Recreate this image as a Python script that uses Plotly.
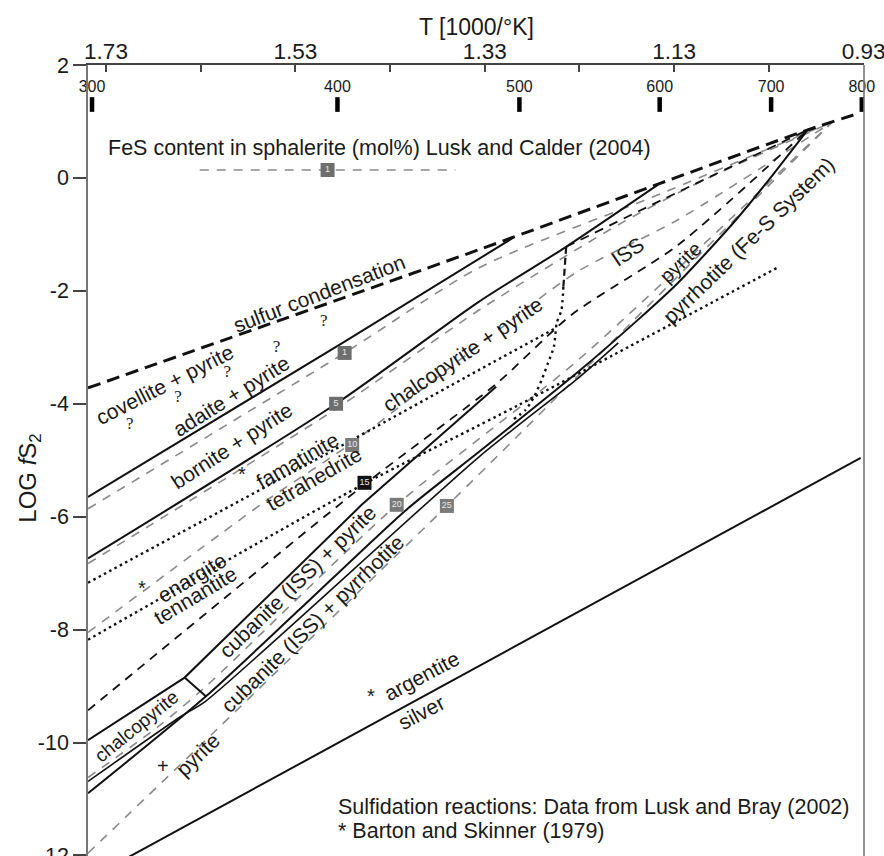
import plotly.graph_objects as go

# ---------------- axis / tick data ----------------
x_tick_vals = [1.73, 1.53, 1.33, 1.13, 0.93]
x_tick_text = ["1.73", "1.53", "1.33", "1.13", "0.93"]
x_minor_vals = [1.63, 1.43, 1.23, 1.03]
y_tick_vals = [2, 0, -2, -4, -6, -8, -10, -12]
y_tick_text = ["2", "0", "-2", "-4", "-6", "-8", "-10", "-12"]
temps_c = [300, 400, 500, 600, 700, 800]
temp_bar_y = [1.17, 1.43]
temp_label_y = 1.59

# ---------------- reaction lines (x = 1000/T, y = log fS2) ----------------
sulfur_x = [1.749, 1.336, 1.147, 0.989, 0.934]
sulfur_y = [-3.72, -1.27, -0.11, 0.85, 1.15]

covellite_x = [1.749, 1.478, 1.300]
covellite_y = [-5.65, -2.90, -1.06]

bornite_x = [1.749, 1.487, 1.336, 1.244, 1.147]
bornite_y = [-6.74, -4.00, -2.19, -1.22, -0.12]

ccp_top_x = [1.749, 1.647, 1.460, 1.318]
ccp_top_y = [-9.96, -8.85, -5.79, -3.70]

ccp_div_x = [1.647, 1.624]
ccp_div_y = [-8.85, -9.19]

po_x = [1.749, 1.625, 1.526, 1.413, 1.336, 1.231, 1.168, 1.126, 1.105, 1.063, 1.026, 0.989]
po_y = [-10.90, -9.19, -7.65, -5.88, -4.85, -3.43, -2.51, -1.86, -1.49, -0.71, 0.05, 0.85]

po2_x = [1.749, 1.651, 1.625, 1.336, 1.231, 1.189]
po2_y = [-10.69, -9.54, -9.27, -4.94, -3.54, -2.92]

iso15_x = [1.749, 1.457, 1.318, 1.238, 1.126, 0.989]
iso15_y = [-9.43, -5.43, -3.65, -2.42, -1.19, 0.85]

iss_top_x = [1.244, 1.154, 0.989]
iss_top_y = [-1.22, -0.48, 0.85]

iss_dash_x = [1.244, 1.247]
iss_dash_y = [-1.22, -1.93]
iss_dot_x = [1.247, 1.249, 1.254, 1.257, 1.263, 1.270, 1.278, 1.287, 1.300]
iss_dot_y = [-1.93, -2.34, -2.57, -2.99, -3.27, -3.58, -3.88, -4.11, -4.28]

famatinite_x = [1.749, 1.470, 1.336, 1.254]
famatinite_y = [-7.17, -4.64, -3.40, -2.65]

enargite_x = [1.749, 1.463, 1.294, 1.021]
enargite_y = [-8.18, -5.47, -4.02, -1.59]

argentite_x = [1.715, 0.933]
argentite_y = [-12.11, -4.96]

# FeS isopleths in sphalerite (grey dashed)
iso1_x = [1.749, 1.478, 1.336, 1.147, 0.963]
iso1_y = [-5.86, -3.10, -1.59, -0.30, 0.99]
iso5_x = [1.749, 1.487, 1.336, 1.189, 1.105, 0.963]
iso5_y = [-6.83, -4.09, -2.34, -0.83, -0.09, 0.99]
iso10_x = [1.749, 1.561, 1.470, 1.336, 1.234, 1.126, 0.963]
iso10_y = [-8.05, -5.72, -4.69, -2.96, -1.68, -0.74, 0.99]
iso20_x = [1.749, 1.675, 1.626, 1.423, 1.231, 0.963]
iso20_y = [-10.62, -9.72, -9.03, -5.79, -3.22, 0.99]
iso25_x = [1.749, 1.613, 1.370, 1.291, 0.963]
iso25_y = [-11.96, -9.77, -5.81, -4.50, 0.99]

legend_line_x = [1.631, 1.361]
legend_line_y = [0.14, 0.14]

# square markers (mol% FeS)
sq_x = [1.478, 1.487, 1.470, 1.457, 1.423, 1.370, 1.496]
sq_y = [-3.10, -4.00, -4.73, -5.40, -5.79, -5.81, 0.14]
sq_text = ["1", "5", "10", "15", "20", "25", "1"]

q_x = [1.705, 1.654, 1.602, 1.550, 1.500]
q_y = [-4.37, -3.89, -3.45, -3.01, -2.55]

# labels: text, x, y, angle, size
labels = [
    ("sulfur condensation", 1.505, -2.04, -21, 21),
    ("covellite + pyrite", 1.668, -3.66, -27, 21),
    ("adaite + pyrite", 1.597, -3.86, -32, 21),
    ("bornite + pyrite", 1.597, -4.74, -33, 21),
    ("chalcopyrite + pyrite", 1.354, -3.13, -34, 21),
    ("famatinite", 1.528, -5.01, -30, 21),
    ("tetrahedrite", 1.510, -5.33, -30, 21),
    ("enargite", 1.639, -7.08, -31, 21),
    ("tennantite", 1.636, -7.39, -31, 21),
    ("cubanite (ISS) + pyrite", 1.528, -7.14, -44, 21),
    ("cubanite (ISS) + pyrrhotite", 1.512, -7.89, -44, 21),
    ("chalcopyrite", 1.698, -9.72, -39, 19),
    ("pyrite", 1.633, -10.21, -44, 21),
    ("argentite", 1.396, -8.82, -28, 21),
    ("silver", 1.397, -9.47, -28, 21),
    ("ISS", 1.179, -1.31, -34, 21),
    ("pyrite", 1.123, -1.49, -44, 20),
    ("pyrrhotite (Fe-S System)", 1.052, -1.10, -44, 21),
]
symbols = [
    ("*", 1.586, -5.24), ("*", 1.692, -7.27), ("*", 1.450, -9.17), ("+", 1.670, -10.42),
]

FONT = "Liberation Sans, Arial, sans-serif"
TXT = "#1a1a1a"
GREY = "#8a8a8a"

fig = go.Figure()


def add_line(x, y, color, width, dash="solid", shape="linear"):
    fig.add_trace(go.Scatter(x=x, y=y, mode="lines",
                             line=dict(color=color, width=width, dash=dash, shape=shape,
                                       smoothing=0.7),
                             hoverinfo="skip", showlegend=False))


gdash = "9px,8px"
for gx, gy in [(iso1_x, iso1_y), (iso5_x, iso5_y), (iso10_x, iso10_y),
               (iso20_x, iso20_y), (iso25_x, iso25_y)]:
    add_line(gx, gy, GREY, 1.6, gdash, "spline")
add_line(legend_line_x, legend_line_y, GREY, 1.6, gdash)

add_line(covellite_x, covellite_y, "#111", 2, shape="spline")
add_line(bornite_x, bornite_y, "#111", 2, shape="spline")
add_line(ccp_top_x, ccp_top_y, "#111", 2)
add_line(ccp_div_x, ccp_div_y, "#111", 2)
add_line(po_x, po_y, "#111", 2, shape="spline")
add_line(po2_x, po2_y, "#111", 1.6, shape="spline")
add_line(argentite_x, argentite_y, "#111", 2)
add_line(iso15_x, iso15_y, "#111", 1.8, "9px,7px", "spline")
add_line(iss_top_x, iss_top_y, "#111", 1.8, "9px,7px", "spline")
add_line(iss_dash_x, iss_dash_y, "#111", 2.2, "7px,4px")
add_line(iss_dot_x, iss_dot_y, "#111", 2.4, "2.5px,4px", "spline")
add_line(famatinite_x, famatinite_y, "#111", 2.4, "2.5px,3.5px", "spline")
add_line(enargite_x, enargite_y, "#111", 2.4, "2.5px,3.5px", "spline")
add_line(sulfur_x, sulfur_y, "#111", 3, "13px,7px", "spline")

# temperature bars and labels
t_x = [1000.0 / (t + 273.15) for t in temps_c]
bar_x, bar_y = [], []
for v in t_x:
    bar_x += [v, v, None]
    bar_y += [temp_bar_y[0], temp_bar_y[1], None]
fig.add_trace(go.Scatter(x=bar_x, y=bar_y, mode="lines", line=dict(color="#000", width=4.5),
                         hoverinfo="skip", showlegend=False, cliponaxis=False))
fig.add_trace(go.Scatter(x=t_x, y=[temp_label_y] * len(t_x), mode="text",
                         text=[str(t) for t in temps_c],
                         textfont=dict(family=FONT, size=16, color=TXT),
                         hoverinfo="skip", showlegend=False, cliponaxis=False))

# squares
sq_colors = ["#6e6e6e", "#6e6e6e", "#7a7a7a", "#111111", "#7a7a7a", "#7a7a7a", "#6e6e6e"]
fig.add_trace(go.Scatter(x=sq_x, y=sq_y, mode="markers+text", text=sq_text,
                         textposition="middle center",
                         textfont=dict(family=FONT, size=9, color="#e8e8e8"),
                         marker=dict(symbol="square", size=14, color=sq_colors),
                         hoverinfo="skip", showlegend=False))

# question marks
fig.add_trace(go.Scatter(x=q_x, y=q_y, mode="text", text=["?"] * len(q_x),
                         textfont=dict(family="Liberation Serif, serif", size=17, color=TXT),
                         hoverinfo="skip", showlegend=False))

annotations = []
for text, x, y, ang, size in labels:
    annotations.append(dict(x=x, y=y, xref="x", yref="y", text=text, showarrow=False,
                            textangle=ang, font=dict(family=FONT, size=size, color=TXT),
                            xanchor="center", yanchor="middle"))
for text, x, y in symbols:
    annotations.append(dict(x=x, y=y, xref="x", yref="y", text=text, showarrow=False,
                            font=dict(family=FONT, size=20, color=TXT),
                            xanchor="center", yanchor="middle"))

annotations += [
    dict(x=1.441, y=0.53, xref="x", yref="y", showarrow=False,
         text="FeS content in sphalerite (mol%) Lusk and Calder (2004)",
         font=dict(family=FONT, size=21.5, color=TXT), xanchor="center", yanchor="middle"),
    dict(x=1.487, y=-11.15, xref="x", yref="y", showarrow=False,
         text="Sulfidation reactions: Data from Lusk and Bray (2002)",
         font=dict(family=FONT, size=21.5, color=TXT), xanchor="left", yanchor="middle"),
    dict(x=1.487, y=-11.56, xref="x", yref="y", showarrow=False,
         text="* Barton and Skinner (1979)",
         font=dict(family=FONT, size=21.5, color=TXT), xanchor="left", yanchor="middle"),
    dict(x=0.5, y=1.048, xref="paper", yref="paper", showarrow=False,
         text="T [1000/°K]", font=dict(family=FONT, size=23, color=TXT),
         xanchor="center", yanchor="middle"),
    dict(x=-0.075, y=0.478, xref="paper", yref="paper", showarrow=False,
         text="LOG <i>f</i>S<sub>2</sub>", textangle=-90,
         font=dict(family=FONT, size=24, color=TXT), xanchor="center", yanchor="middle"),
]

fig.update_layout(
    width=884, height=856,
    margin=dict(l=88, r=20, t=65, b=0, autoexpand=False),
    paper_bgcolor="white", plot_bgcolor="white",
    showlegend=False,
    annotations=annotations,
    shapes=[dict(type="line", xref="paper", yref="paper", x0=1, x1=1, y0=0, y1=1,
                 line=dict(color="#777", width=1.6))],
    xaxis=dict(range=[1.749, 0.9295], side="top", showline=True, linecolor="#444", linewidth=1.5,
               ticks="inside", ticklen=7, tickwidth=1.5, tickcolor="#444",
               tickmode="array", tickvals=x_tick_vals, ticktext=x_tick_text,
               ticklabelstandoff=-5, ticklabeloverflow="allow",
               minor=dict(tickmode="array", tickvals=x_minor_vals, ticks="inside",
                          ticklen=7, tickwidth=1.5, tickcolor="#444", showgrid=False),
               tickfont=dict(family=FONT, size=22.5, color=TXT),
               showgrid=False, zeroline=False),
    yaxis=dict(range=[-12.01, 2], showline=True, linecolor="#777", linewidth=1.6,
               ticks="outside", ticklen=13, tickwidth=1.5, tickcolor="#444",
               tickvals=y_tick_vals, ticktext=y_tick_text, ticklabeloverflow="allow",
               tickfont=dict(family=FONT, size=21.5, color=TXT),
               showgrid=False, zeroline=False),
)

fig.write_html("out.html", config={"displayModeBar": False},
               post_script="document.body.style.margin='0';document.body.style.padding='0';")
